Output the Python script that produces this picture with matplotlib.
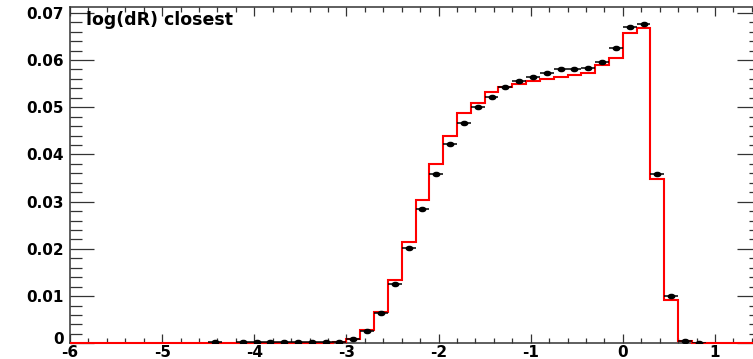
import matplotlib
matplotlib.use("Agg")
import matplotlib.pyplot as plt
import matplotlib.transforms as mtransforms
import numpy as np
from matplotlib.path import Path
from matplotlib.ticker import MultipleLocator, FixedLocator, FixedFormatter

nan = np.nan

# binning: 50 bins of 0.15 from -6 to 1.5
bin_lo = -6.0
bin_width = 0.15
n_bins = 50

# red histogram (simulation)
mc_values = [
    0, 0, 0, 0, 0, 0, 0, 0, 0, 0,
    0, 0, 0, 0, 0, 0, 0, 0, 0, 0.0003,
    0.0010, 0.0028, 0.0067, 0.0134, 0.0215, 0.0304, 0.0379, 0.0440, 0.0487, 0.0510,
    0.0533, 0.0542, 0.0549, 0.0556, 0.0560, 0.0565, 0.0568, 0.0572, 0.0589, 0.0604,
    0.0658, 0.0667, 0.0347, 0.0092, 0.0004, 0, 0, 0, 0, 0,
]

# black points (data)
data_values = [
    nan, nan, nan, nan, nan, nan, nan, nan, nan, nan,
    0.0002, nan, 0.0002, 0.0002, 0.0002, 0.0002, 0.0002, 0.0002, 0.0002, 0.0002,
    0.0009, 0.0027, 0.0064, 0.0125, 0.0201, 0.0285, 0.0359, 0.0422, 0.0466, 0.0501,
    0.0522, 0.0543, 0.0556, 0.0565, 0.0573, 0.0581, 0.0581, 0.0583, 0.0596, 0.0626,
    0.0670, 0.0676, 0.0359, 0.0101, 0.0004, 0.0001, nan, nan, nan, nan,
]

x_ticks = [-6, -5, -4, -3, -2, -1, 0, 1]
x_tick_labels = ["-6", "-5", "-4", "-3", "-2", "-1", "0", "1"]
y_ticks = [0, 0.01, 0.02, 0.03, 0.04, 0.05, 0.06, 0.07]
y_tick_labels = ["0", "0.01", "0.02", "0.03", "0.04", "0.05", "0.06", "0.07"]
title = "log(dR) closest"

plt.rcParams["font.family"] = ["DejaVu Sans"]
plt.rcParams["font.weight"] = "bold"
plt.rcParams["axes.unicode_minus"] = False

edges = bin_lo + bin_width * np.arange(n_bins + 1)
centers = 0.5 * (edges[:-1] + edges[1:])

# slightly wide ellipse marker, like the stretched original
circ = Path.unit_circle()
ellipse = Path(circ.vertices * np.array([1.0, 0.65]), circ.codes)

fig = plt.figure(figsize=(7.53, 3.59), dpi=100)
ax = fig.add_axes([70 / 753, 1 - 343.3 / 359, 691 / 753, 336.6 / 359])

# red histogram outline
ax.stairs(mc_values, edges, baseline=0, color="#ff0000", lw=1.5,
          zorder=3, clip_on=False)

# data points with bin-width error bars
ax.errorbar(centers, data_values, xerr=bin_width / 2, fmt="none", ecolor="black",
            elinewidth=1.1, capsize=0, zorder=4)
ax.plot(centers, data_values, ls="none", marker=ellipse, ms=4.6,
        color="black", zorder=5)

ax.set_xlim(-6, 1.5)
ax.set_ylim(0, 0.0713)

ax.xaxis.set_major_locator(FixedLocator(x_ticks))
ax.xaxis.set_major_formatter(FixedFormatter(x_tick_labels))
ax.xaxis.set_minor_locator(MultipleLocator(0.2))
ax.yaxis.set_major_locator(FixedLocator(y_ticks))
ax.yaxis.set_major_formatter(FixedFormatter(y_tick_labels))
ax.yaxis.set_minor_locator(MultipleLocator(0.002))

ax.tick_params(axis="x", which="both", direction="in", top=True, bottom=True,
               labelsize=11, pad=1.0, width=0.9, color="#333333")
ax.tick_params(axis="x", which="major", length=6.5)
ax.tick_params(axis="x", which="minor", length=3.6)
ax.tick_params(axis="y", which="both", direction="in", left=True, right=True,
               labelsize=11, pad=4.5, width=0.9, color="#333333")
ax.tick_params(axis="y", which="major", length=17.3)
ax.tick_params(axis="y", which="minor", length=8.6)

for sp in ax.spines.values():
    sp.set_linewidth(1.1)
    sp.set_color("#333333")

# lift the "0" on the y axis a little so it clears the "-6" below it
zero_label = ax.yaxis.get_major_ticks()[0].label1
zero_label.set_transform(zero_label.get_transform()
                         + mtransforms.ScaledTranslation(0, 3.5 / 72, fig.dpi_scale_trans))

ax.text(86 / 753, 1 - 25 / 359, title, transform=fig.transFigure,
        ha="left", va="baseline", fontsize=12.5, fontweight="bold")

fig.savefig("out.png", dpi=100)
